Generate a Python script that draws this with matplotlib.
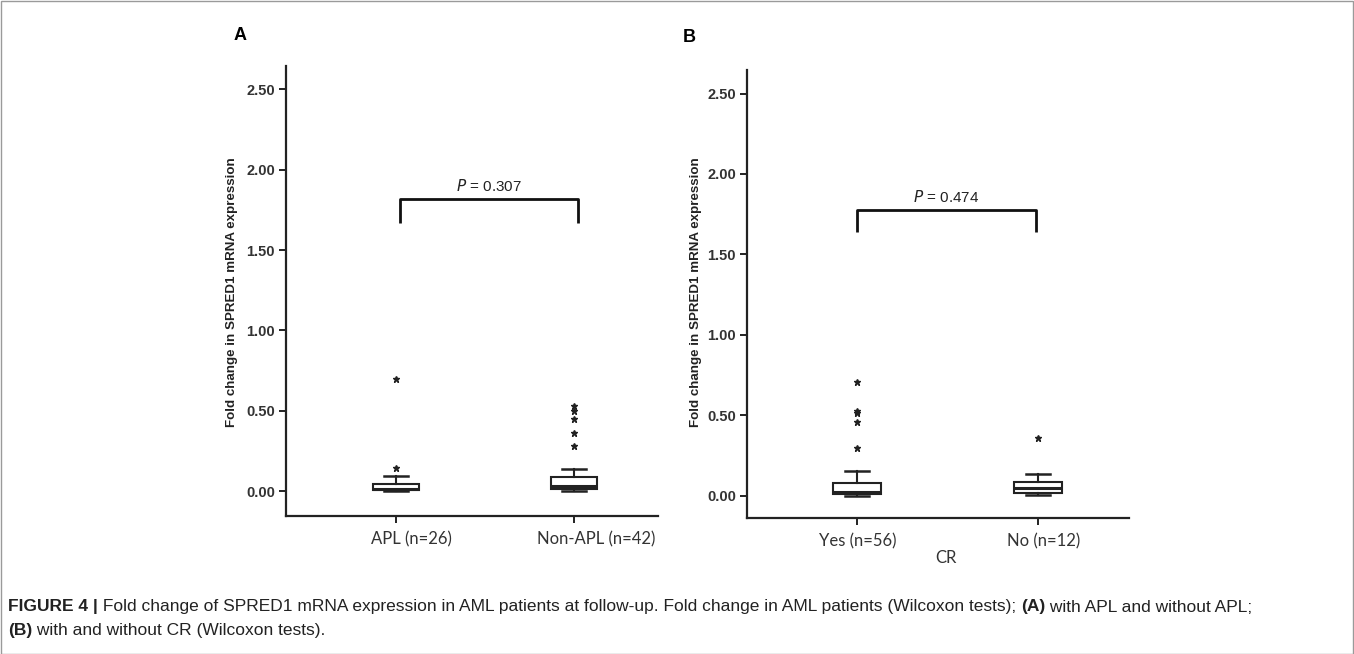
import matplotlib
matplotlib.use("Agg")
import matplotlib.pyplot as plt
from matplotlib.patches import Rectangle
from matplotlib.transforms import ScaledTranslation

# ---------------- data ----------------
cats_A = ["APL (n=26)", "Non-APL (n=42)"]
A_whislo = [0.0, 0.0]
A_q1 = [0.005, 0.01]
A_med = [0.015, 0.03]
A_q3 = [0.045, 0.087]
A_whishi = [0.095, 0.137]
A_fliers = [[0.145, 0.70], [0.28, 0.36, 0.45, 0.50, 0.53]]
A_pvalue = "0.307"

cats_B = ["Yes (n=56)", "No (n=12)"]
B_whislo = [0.0, 0.006]
B_q1 = [0.01, 0.019]
B_med = [0.022, 0.05]
B_q3 = [0.08, 0.087]
B_whishi = [0.155, 0.137]
B_fliers = [[0.30, 0.46, 0.515, 0.53, 0.71], [0.36]]
B_pvalue = "0.474"
B_xlabel = "CR"

yticks = [0.0, 0.5, 1.0, 1.5, 2.0, 2.5]
ylabel = "Fold change in SPRED1 mRNA expression"

W, H = 1354, 654
fig = plt.figure(figsize=(W / 100, H / 100), dpi=100)

LABEL_FONT = ["Lato", "DejaVu Sans"]
TICK_FONT = ["Liberation Sans", "DejaVu Sans"]


def px_ax(l, r, t, b):
    return [l / W, 1 - b / H, (r - l) / W, (b - t) / H]


def make_panel(rect, xlim, ylim, cats, whislo, q1, med, q3, whishi, fliers,
               bracket, pval, label_dx, ylab_x):
    ax = fig.add_axes(rect)
    stats = []
    for i in range(len(cats)):
        stats.append(dict(whislo=whislo[i], q1=q1[i], med=med[i], q3=q3[i],
                          whishi=whishi[i], fliers=fliers[i]))
    ax.bxp(stats, positions=[1, 2], widths=0.26, capwidths=0.13,
           patch_artist=True, manage_ticks=False,
           boxprops=dict(facecolor="white", edgecolor="#222222", linewidth=1.5),
           medianprops=dict(color="#222222", linewidth=2.2),
           whiskerprops=dict(color="#222222", linewidth=1.5),
           capprops=dict(color="#222222", linewidth=1.8),
           flierprops=dict(marker="*", markersize=5, markerfacecolor="#222222",
                           markeredgecolor="#222222", linestyle="none"))
    ax.set_xlim(*xlim)
    ax.set_ylim(*ylim)
    for s in ["top", "right"]:
        ax.spines[s].set_visible(False)
    for s in ["left", "bottom"]:
        ax.spines[s].set_linewidth(1.6)
        ax.spines[s].set_color("#222222")
    ax.set_yticks(yticks)
    ax.set_yticklabels(["%.2f" % v for v in yticks], fontfamily=TICK_FONT,
                       fontweight="bold", fontsize=10.5, color="#333333")
    ax.set_xticks([1, 2])
    ax.set_xticklabels(cats, fontfamily=LABEL_FONT, fontsize=12, color="#333333")
    ax.tick_params(axis="both", length=5, width=1.4, color="#222222", pad=3)
    ax.tick_params(axis="x", pad=6)
    for lab, dx in zip(ax.get_xticklabels(), label_dx):
        lab.set_transform(lab.get_transform() +
                          ScaledTranslation(dx / 100, 0, fig.dpi_scale_trans))
    # significance bracket
    x1, x2, ytop, ybot = bracket
    ax.plot([x1, x1, x2, x2], [ybot, ytop, ytop, ybot], color="#111111",
            linewidth=2.0, solid_capstyle="butt", clip_on=False)
    ax.text((x1 + x2) / 2, ytop + 0.03, "$\\it{P}$ = " + pval, ha="center",
            va="bottom", fontsize=11, fontfamily=TICK_FONT, color="#222222")
    fig.text(ylab_x / W, 1 - 292 / H, ylabel, rotation=90,
             ha="center", va="center", fontfamily=TICK_FONT, fontweight="bold",
             fontsize=9.6, color="#222222")
    return ax


axA = make_panel(px_ax(286, 658, 66, 516), (0.382, 2.472), (-0.155, 2.645),
                 cats_A, A_whislo, A_q1, A_med, A_q3, A_whishi, A_fliers,
                 (1.02, 2.02, 1.816, 1.667), A_pvalue, (15, 22), 232)
axB = make_panel(px_ax(747, 1129, 70, 518), (0.392, 2.503), (-0.137, 2.646),
                 cats_B, B_whislo, B_q1, B_med, B_q3, B_whishi, B_fliers,
                 (1.0, 1.99, 1.776, 1.64), B_pvalue, (1, 6), 696)
fig.text(946 / W, 1 - 558 / H, B_xlabel, ha="center", va="center",
         fontfamily=LABEL_FONT, fontsize=12, color="#333333")

# panel letters
fig.text(240 / W, 1 - 36 / H, "A", ha="center", va="center",
         fontfamily=TICK_FONT, fontweight="bold", fontsize=13)
fig.text(689 / W, 1 - 37 / H, "B", ha="center", va="center",
         fontfamily=TICK_FONT, fontweight="bold", fontsize=13)

# caption with mixed bold runs
CAP_FONT = ["Liberation Sans Narrow", "Liberation Sans", "DejaVu Sans"]
caption_lines = [
    [("FIGURE 4 |", True),
     (" Fold change of SPRED1 mRNA expression in AML patients at follow-up. "
      "Fold change in AML patients (Wilcoxon tests); ", False),
     ("(A)", True), (" with APL and without APL;", False)],
    [("(B)", True), (" with and without CR (Wilcoxon tests).", False)],
]
caption_y = [607, 631]
fig.canvas.draw()
renderer = fig.canvas.get_renderer()
for runs, yy in zip(caption_lines, caption_y):
    x = 8
    for txt, bold in runs:
        t = fig.text(x / W, 1 - yy / H, txt, ha="left", va="center",
                     fontfamily=CAP_FONT, fontsize=12.5, color="#222222",
                     fontweight="bold" if bold else "normal")
        bb = t.get_window_extent(renderer=renderer)
        x += bb.width

# outer frame
fig.add_artist(Rectangle((0.5 / W, 0.5 / H), 1 - 1.5 / W, 1 - 1.5 / H,
                         transform=fig.transFigure, fill=False,
                         edgecolor="#9a9a9a", linewidth=1.0))

fig.savefig("out.png", dpi=100)
